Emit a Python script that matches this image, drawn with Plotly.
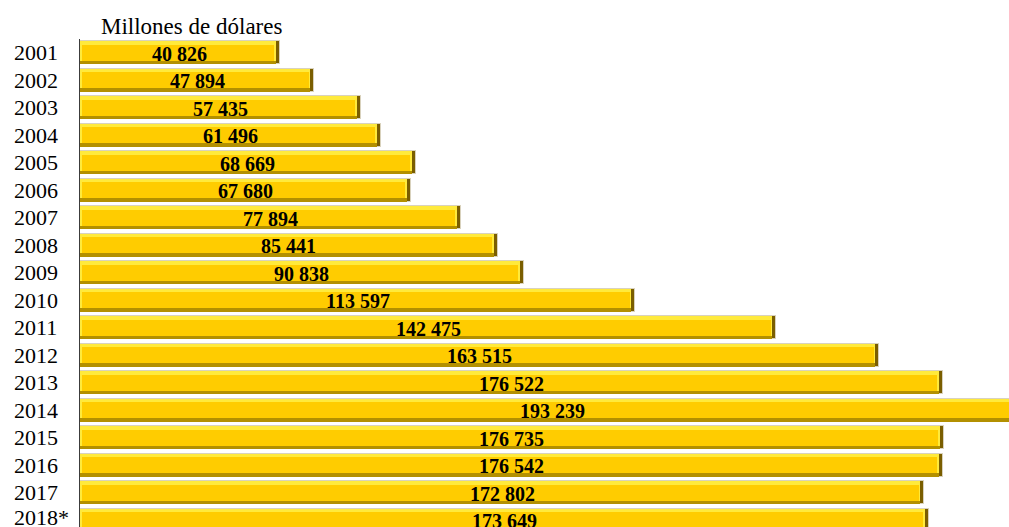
import plotly.graph_objects as go

# Annual values, millions of dollars
years = ["2001", "2002", "2003", "2004", "2005", "2006", "2007", "2008", "2009",
         "2010", "2011", "2012", "2013", "2014", "2015", "2016", "2017", "2018*"]
values = [40826, 47894, 57435, 61496, 68669, 67680, 77894, 85441, 90838,
          113597, 142475, 163515, 176522, 193239, 176735, 176542, 172802, 173649]
unit_title = "Millones de dólares"

FONT = "Liberation Serif"
W, H = 1009, 527
M_L, M_T = 80, 39
X_MAX = 190100
plot_w = W - M_L
px = X_MAX / plot_w          # data units per pixel on the value axis

cats = list(range(len(years)))
BAR_W = 0.84                  # bar thickness in category units
cat_px = (H - M_T) / 17.75
cy = 1.0 / cat_px             # category units per pixel

# bevel sizes
right_edge = 4 * px
left_edge = 1.5 * px
top_band = 3.5 * cy
bottom_band = 3.5 * cy


def layer(xs, base, offset, width, color, line=None):
    return go.Bar(
        y=cats, x=xs, base=base, orientation="h",
        offset=offset, width=width,
        marker=dict(color=color,
                    line=dict(color=line or color, width=1 if line else 0)),
        hoverinfo="skip", showlegend=False,
    )


fig = go.Figure()
# dark right shadow (full bar)
fig.add_trace(layer(values, 0, -BAR_W / 2, BAR_W, "#7a5e00", line="#d9d2bd"))
# bottom olive band
fig.add_trace(layer([v - right_edge for v in values], 0, -BAR_W / 2, BAR_W,
                    "#b39000"))
# light top-left bevel
fig.add_trace(layer([v - right_edge for v in values], 0, -BAR_W / 2,
                    BAR_W - bottom_band, "#ffea3c"))
# main gold face
fig.add_trace(layer([v - right_edge - left_edge - 1.5 * px for v in values],
                    left_edge, -BAR_W / 2 + top_band,
                    BAR_W - top_band - bottom_band, "#ffcc00"))

annotations = []
last = len(years) - 1
for c, y, v in zip(cats, years, values):
    # value label centred on the bar
    annotations.append(dict(
        x=v / 2, y=c, xref="x", yref="y", text=f"{v:,}".replace(",", " "),
        showarrow=False, xanchor="center", yanchor="middle", yshift=-1,
        font=dict(family=FONT, size=20, color="black", weight="bold"),
    ))
    # year label, left aligned
    annotations.append(dict(
        x=-(M_L - 12) / plot_w, y=c, xref="paper", yref="y", text=y,
        showarrow=False, xanchor="left", yanchor="middle",
        yshift=3 if c == last else 0,
        font=dict(family=FONT, size=22, color="black"),
    ))

annotations.append(dict(
    x=(191.5 - M_L) / plot_w, y=1 + (M_T - 26) / (H - M_T),
    xref="paper", yref="paper", text=unit_title, showarrow=False,
    xanchor="center", yanchor="middle",
    font=dict(family=FONT, size=23, color="black"),
))

fig.update_layout(
    width=W, height=H,
    margin=dict(l=M_L, r=0, t=M_T, b=0, pad=0),
    paper_bgcolor="white", plot_bgcolor="white",
    barmode="overlay", bargap=0,
    xaxis=dict(range=[0, X_MAX], visible=False, showgrid=False, zeroline=False),
    yaxis=dict(range=[17.25, -0.5], showticklabels=False, showgrid=False,
               zeroline=False, ticks="", showline=True, linecolor="#3c3c3c",
               linewidth=1),
    annotations=annotations,
    font=dict(family=FONT),
)

fig.write_html("out.html")
